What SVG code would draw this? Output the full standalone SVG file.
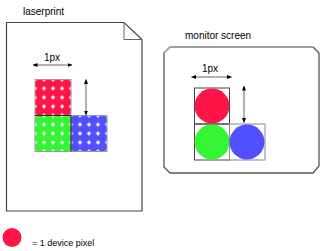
<svg xmlns="http://www.w3.org/2000/svg" width="322" height="251" viewBox="0 0 322 251">
<style>
text{font-family:"Liberation Sans",Arial,sans-serif;font-size:10px;fill:#000}
.shaft{stroke:#999;stroke-width:1.5;fill:none}
.grid{fill:none;stroke:#444;stroke-width:1}
</style>
<defs>
<marker id="ah" viewBox="0 0 10 10" refX="9" refY="5" markerWidth="5" markerHeight="5" orient="auto-start-reverse" markerUnits="userSpaceOnUse">
<path d="M0,1 L10,5 L0,9 z" fill="#000"/>
</marker>
<g id="row">
<circle cx="4.5" cy="4.5" r="4.95"/><circle cx="13.5" cy="4.5" r="4.95"/><circle cx="22.5" cy="4.5" r="4.95"/><circle cx="31.5" cy="4.5" r="4.95"/>
</g>
<g id="cell">
<use href="#row"/><use href="#row" y="9"/><use href="#row" y="18"/><use href="#row" y="27"/>
</g>
<pattern id="dotsR" x="35" y="79.5" width="36" height="36" patternUnits="userSpaceOnUse">
<use href="#cell" fill="#ff1448"/>
</pattern>
<pattern id="dotsG" x="35" y="115.5" width="36" height="36" patternUnits="userSpaceOnUse">
<use href="#cell" fill="#33f533"/>
</pattern>
<pattern id="dotsB" x="71" y="115.5" width="36" height="36" patternUnits="userSpaceOnUse">
<use href="#cell" fill="#5050ff"/>
</pattern>
</defs>
<g id="laserprint">
<path d="M6.5,211 V22.5 H124 L142,39.5 V211 Z" fill="#fff" stroke="#444" stroke-width="1.2"/>
<path d="M124,22.5 V39.5 H142" fill="none" stroke="#666" stroke-width="1"/>
<text x="23" y="15">laserprint</text>
</g>
<g id="laser-red">
<rect x="35" y="79.5" width="36" height="36" fill="url(#dotsR)" stroke="#999" stroke-width="1"/>
</g>
<g id="laser-green">
<rect x="35" y="115.5" width="36" height="36" fill="url(#dotsG)" stroke="#999" stroke-width="1"/>
<circle cx="67.5" cy="147" r="3" fill="#33f533"/>
</g>
<g id="laser-blue">
<rect x="71" y="115.5" width="36" height="36" fill="url(#dotsB)" stroke="#999" stroke-width="1"/>
<path d="M35,115.5 H71 V151.5" fill="none" stroke="#222" stroke-width="1"/>
</g>
<g id="monitor">
<path d="M170,47 H313 L319,53 V166 L313,173 H170 L164,167 V53 Z" fill="#fff" stroke="#555" stroke-width="1.3"/>
<path d="M164,53 L170,47 H313" fill="none" stroke="#aaa" stroke-width="1.3"/>
<text x="185" y="38.5">monitor screen</text>
</g>
<g id="mon-red">
<rect x="194.5" y="88" width="35" height="36" class="grid"/>
<circle cx="212" cy="106" r="17.5" fill="#ff1448"/>
</g>
<g id="mon-green">
<rect x="194.5" y="124" width="35" height="36" class="grid"/>
<circle cx="212" cy="142" r="17.5" fill="#33f533"/>
</g>
<g id="mon-blue">
<rect x="229.5" y="124" width="35.5" height="36" fill="none" stroke="#888" stroke-width="1"/>
<circle cx="247" cy="142" r="17.5" fill="#5050ff"/>
</g>
<g id="connectors">
<line x1="33" y1="65" x2="72" y2="65" class="shaft" marker-start="url(#ah)" marker-end="url(#ah)"/>
<line x1="86" y1="79.5" x2="86" y2="115" class="shaft" marker-start="url(#ah)" marker-end="url(#ah)"/>
<line x1="191.5" y1="77" x2="231.5" y2="77" class="shaft" marker-start="url(#ah)" marker-end="url(#ah)"/>
<line x1="244" y1="86" x2="244" y2="122.5" class="shaft" marker-start="url(#ah)" marker-end="url(#ah)"/>
</g>
<text x="44" y="61">1px</text>
<text x="202" y="72">1px</text>
<g id="legend">
<circle cx="12" cy="237.5" r="9.5" fill="#ff1448"/>
<text x="32" y="245.5" style="font-size:9px">= 1 device pixel</text>
</g>
</svg>
